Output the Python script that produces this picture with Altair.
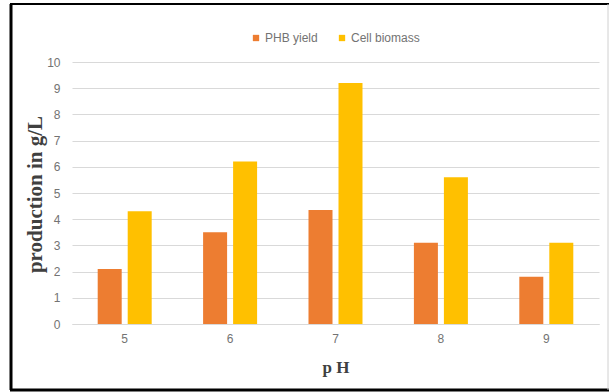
import altair as alt
import pandas as pd

# pH levels and measured production (g/L)
ph_levels = ["5", "6", "7", "8", "9"]
phb_yield = [2.1, 3.5, 4.35, 3.1, 1.8]
cell_biomass = [4.3, 6.2, 9.2, 5.6, 3.1]
series_names = ["PHB yield", "Cell biomass"]
series_colors = ["#ED7D31", "#FFC000"]

rows = []
for i, ph in enumerate(ph_levels):
    rows.append({"pH": ph, "series": series_names[0], "value": phb_yield[i]})
    rows.append({"pH": ph, "series": series_names[1], "value": cell_biomass[i]})
df = pd.DataFrame(rows)

W, H = 527, 262
label_font = "Liberation Sans"
title_font = "Liberation Serif"
label_color = "#737373"

bars = alt.Chart(df).mark_bar().encode(
    x=alt.X(
        "pH:N",
        sort=ph_levels,
        scale=alt.Scale(paddingInner=0.4877, paddingOuter=0.2438),
        axis=alt.Axis(
            title="p H",
            labelAngle=0,
            labelFont=label_font,
            labelFontSize=12,
            labelColor=label_color,
            labelPadding=9,
            ticks=False,
            domain=True,
            domainColor="#d9d9d9",
            domainWidth=1,
            grid=False,
            titleFont=title_font,
            titleFontSize=17,
            titleFontWeight="bold",
            titleColor="#404040",
            titleX=W / 2,
            titleY=43,
            titleAlign="center",
            titleBaseline="middle",
        ),
    ),
    xOffset=alt.XOffset(
        "series:N",
        sort=series_names,
        scale=alt.Scale(paddingInner=0.2, paddingOuter=0),
    ),
    y=alt.Y(
        "value:Q",
        scale=alt.Scale(domain=[0, 10], nice=False),
        axis=alt.Axis(
            title="production in g/L",
            values=list(range(0, 11)),
            labelFont=label_font,
            labelFontSize=12,
            labelColor=label_color,
            labelPadding=12,
            ticks=False,
            domain=False,
            grid=True,
            gridColor="#d9d9d9",
            gridWidth=1,
            titleFont=title_font,
            titleFontSize=21,
            titleFontWeight="bold",
            titleColor="#404040",
            titleX=-37,
            titleY=H / 2 + 1,
            titleAngle=270,
            titleAlign="center",
            titleBaseline="middle",
        ),
    ),
    color=alt.Color(
        "series:N",
        sort=series_names,
        scale=alt.Scale(domain=series_names, range=series_colors),
        legend=alt.Legend(
            title=None,
            orient="none",
            direction="horizontal",
            legendX=178,
            legendY=-30,
            symbolType="square",
            symbolSize=40,
            symbolStrokeWidth=0,
            labelFont=label_font,
            labelFontSize=12,
            labelColor=label_color,
            columnPadding=18,
            symbolOffset=0,
            labelOffset=3,
        ),
    ),
)

# Outer frame around the figure
frame_data = alt.Data(values=[{}])
frame_left = alt.Chart(frame_data).mark_rule(color="black", strokeWidth=3).encode(
    x=alt.value(-61), y=alt.value(-58), y2=alt.value(328)
)
frame_top = alt.Chart(frame_data).mark_rule(color="black", strokeWidth=2).encode(
    x=alt.value(-62), x2=alt.value(537), y=alt.value(-58)
)
frame_bottom = alt.Chart(frame_data).mark_rule(color="black", strokeWidth=3).encode(
    x=alt.value(-62), x2=alt.value(537), y=alt.value(328)
)
frame_right = alt.Chart(frame_data).mark_rule(color="#d0d0d0", strokeWidth=1).encode(
    x=alt.value(536), y=alt.value(-58), y2=alt.value(328)
)

chart = alt.layer(bars, frame_left, frame_top, frame_bottom, frame_right).properties(
    width=W,
    height=H,
    autosize=alt.AutoSizeParams(type="none"),
    padding={"left": 72, "top": 62, "right": 11, "bottom": 68},
    background="white",
).configure_view(stroke=None)

chart.save("out.html", embed_options={"renderer": "svg", "actions": False})
